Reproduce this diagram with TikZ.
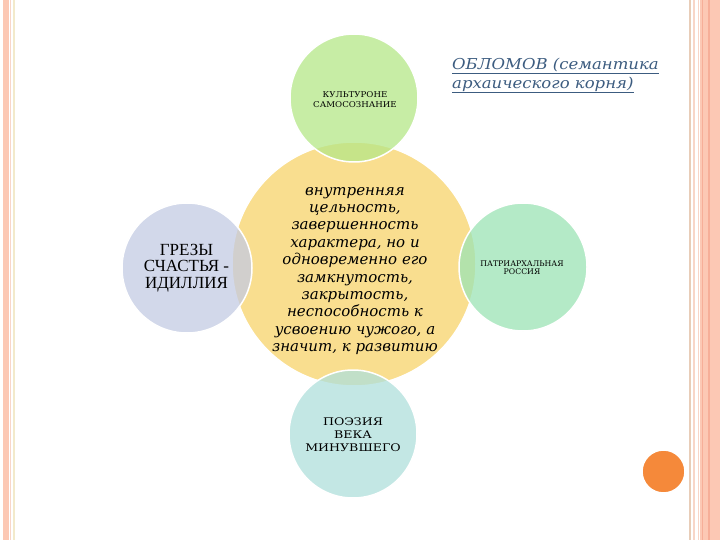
\documentclass[tikz,border=0pt]{standalone}
\usepackage{fontspec}
\setmainfont{DejaVu Serif}
\newfontfamily\serifit{DejaVu Serif}
\newfontfamily\titleface[FakeStretch=1.1]{DejaVu Serif}
\newfontfamily\timesface{Liberation Serif}
\newfontfamily\smallface[FakeStretch=1.2]{DejaVu Serif}
\newfontfamily\topface[FakeStretch=1.08]{DejaVu Serif}
\newfontfamily\plainface{DejaVu Serif}
\definecolor{cyel}{RGB}{249,222,143}
\definecolor{cgreen}{RGB}{181,231,136}
\definecolor{clav}{RGB}{196,203,227}
\definecolor{cmint}{RGB}{156,228,181}
\definecolor{cblue}{RGB}{175,224,220}
\definecolor{corange}{RGB}{245,137,58}
\definecolor{ctitle}{RGB}{60,92,128}
\definecolor{csalmon}{RGB}{252,200,180}
\definecolor{cstripe}{RGB}{246,174,152}
\definecolor{ctan}{RGB}{232,205,184}
\definecolor{cpalepink}{RGB}{248,214,200}
\definecolor{cpaleyel}{RGB}{242,234,203}
\begin{document}
\begin{tikzpicture}[x=1pt,y=-1pt,
  disc/.style={circle, draw=white, line width=1.5pt, inner sep=0pt, minimum size=#1},
  sat/.style={disc=#1, fill opacity=0.75},
  lbl/.style={align=center, inner sep=0pt}]
\useasboundingbox (0,0) rectangle (720,540);
\fill[white] (0,0) rectangle (720,540);
% left border
\fill[csalmon] (3,0) rectangle (9,540);
\draw[cpalepink, line width=1pt] (10.5,0) -- (10.5,540);
\draw[cpaleyel, line width=1.2pt] (14,0) -- (14,540);
% right border
\draw[ctan, line width=2pt] (690,0) -- (690,540);
\draw[cpalepink, line width=1.5pt] (694,0) -- (694,540);
\draw[cpalepink, line width=1.5pt] (698.5,0) -- (698.5,540);
\fill[csalmon] (700,0) rectangle (720,540);
\draw[cstripe, line width=1.5pt] (702.5,0) -- (702.5,540);
\draw[cstripe, line width=2pt] (709,0) -- (709,540);
% circles
\node[disc=244pt, fill=cyel] (core) at (354,264) {};
\node[sat=128pt, fill=cgreen] (topc) at (354,98) {};
\node[sat=130pt, fill=clav] (leftc) at (187,268) {};
\node[sat=128pt, fill=cmint] (rightc) at (523,267) {};
\node[sat=128pt, fill=cblue] (bottomc) at (353,434) {};
\node[disc=43pt, fill=corange] (dot) at (663.5,471.5) {};
% texts
\node[lbl, font=\serifit\itshape\fontsize{15}{17.4}\selectfont] (coretext) at (355,271)
  {внутренняя\\цельность,\\завершенность\\характера, но и\\одновременно его\\замкнутость,\\закрытость,\\неспособность к\\усвоению чужого, а\\значит, к развитию};
\node[lbl, font=\topface\fontsize{8}{10}\selectfont] (toptext) at (355,99.5)
  {КУЛЬТУРОНЕ\\САМОСОЗНАНИЕ};
\node[lbl, font=\plainface\fontsize{7.8}{8.5}\selectfont] (righttext) at (522,267.5)
  {ПАТРИАРХАЛЬНАЯ\\РОССИЯ};
\node[lbl, font=\smallface\fontsize{10.5}{13}\selectfont] (bottomtext) at (353,435)
  {ПОЭЗИЯ\\ВЕКА\\МИНУВШЕГО};
\node[lbl, font=\timesface\fontsize{17}{16.7}\selectfont] (lefttext) at (186.5,268)
  {ГРЕЗЫ\\СЧАСТЬЯ -\\ИДИЛЛИЯ};
\node[align=left, inner sep=0pt, anchor=north west, text=ctitle,
  font=\titleface\itshape\fontsize{15}{18.5}\selectfont] (title) at (452,58)
  {\underline{ОБЛОМОВ (семантика}\\\underline{архаического корня)}};
\end{tikzpicture}
\end{document}
